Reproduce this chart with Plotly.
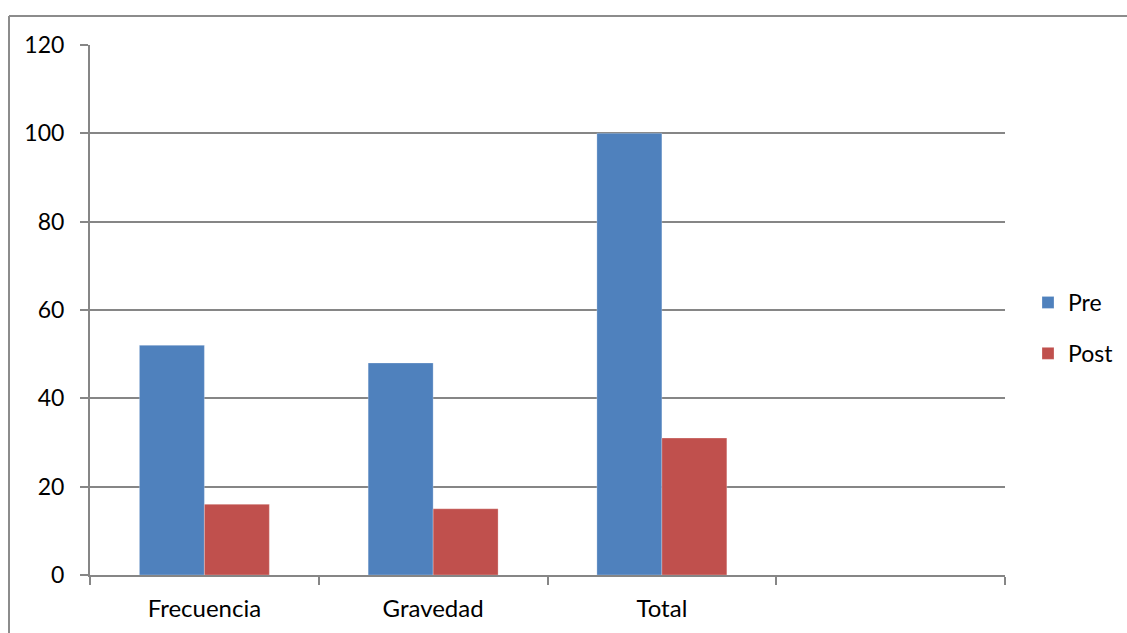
import plotly.graph_objects as go

categories = ["Frecuencia", "Gravedad", "Total", " "]
pre_values = [52, 48, 100, None]
post_values = [16, 15, 31, None]
y_ticks = [0, 20, 40, 60, 80, 100, 120]

W, H = 1127, 633
L, R, T, B = 90, 122, 45, 58
pw, ph = W - L - R, H - T - B

def px_x(x):
    return (x - L) / pw

def px_y(y):
    return (H - B - y) / ph

FONT = "Lato"
AXC = "#868686"

fig = go.Figure()
fig.add_trace(go.Bar(name="Pre", x=categories, y=pre_values,
                     marker=dict(color="#4F81BD", line=dict(color="rgba(255,255,255,0.5)", width=0.5)),
                     legendgroup="a"))
fig.add_trace(go.Bar(name="Post", x=categories, y=post_values,
                     marker=dict(color="#C0504D", line=dict(color="rgba(255,255,255,0.5)", width=0.5)),
                     legendgroup="b"))

fig.update_layout(
    width=W, height=H,
    margin=dict(l=L, r=R, t=T, b=B, pad=0, autoexpand=False),
    paper_bgcolor="white", plot_bgcolor="white",
    barmode="group", bargap=0.432, bargroupgap=0,
    font=dict(family=FONT, size=23, color="black"),
    showlegend=True,
    legend=dict(x=px_x(1028), y=px_y(328), xanchor="left", yanchor="middle",
                traceorder="grouped", tracegroupgap=18,
                font=dict(family=FONT, size=23, color="black"),
                itemwidth=30, bgcolor="rgba(0,0,0,0)"),
    xaxis=dict(type="category", categoryorder="array", categoryarray=categories,
               tickson="boundaries", ticks="outside", ticklen=8, tickwidth=2, tickcolor=AXC,
               showline=True, linecolor=AXC, linewidth=2, showgrid=False,
               tickfont=dict(family=FONT, size=24, color="black"),
               ticklabelstandoff=11, range=[-0.5, 3.5]),
    yaxis=dict(range=[0, 120], tickvals=y_ticks, ticks="outside", ticklen=8, tickwidth=2,
               tickcolor=AXC, showline=True, linecolor=AXC, linewidth=2,
               showgrid=True, gridcolor=AXC, gridwidth=1.5, zeroline=False,
               tickfont=dict(family=FONT, size=23, color="black"),
               ticklabelstandoff=11),
    shapes=[
        dict(type="line", xref="paper", yref="paper", x0=px_x(9), x1=px_x(1127),
             y0=px_y(16), y1=px_y(16), line=dict(color="#8c8c8c", width=2)),
        dict(type="line", xref="paper", yref="paper", x0=px_x(9), x1=px_x(9),
             y0=px_y(16), y1=px_y(633), line=dict(color="#8c8c8c", width=2)),
    ],
)

fig.write_html("out.html", config={"displayModeBar": False},
               post_script="document.body.style.margin='0';document.body.style.overflow='hidden';")
